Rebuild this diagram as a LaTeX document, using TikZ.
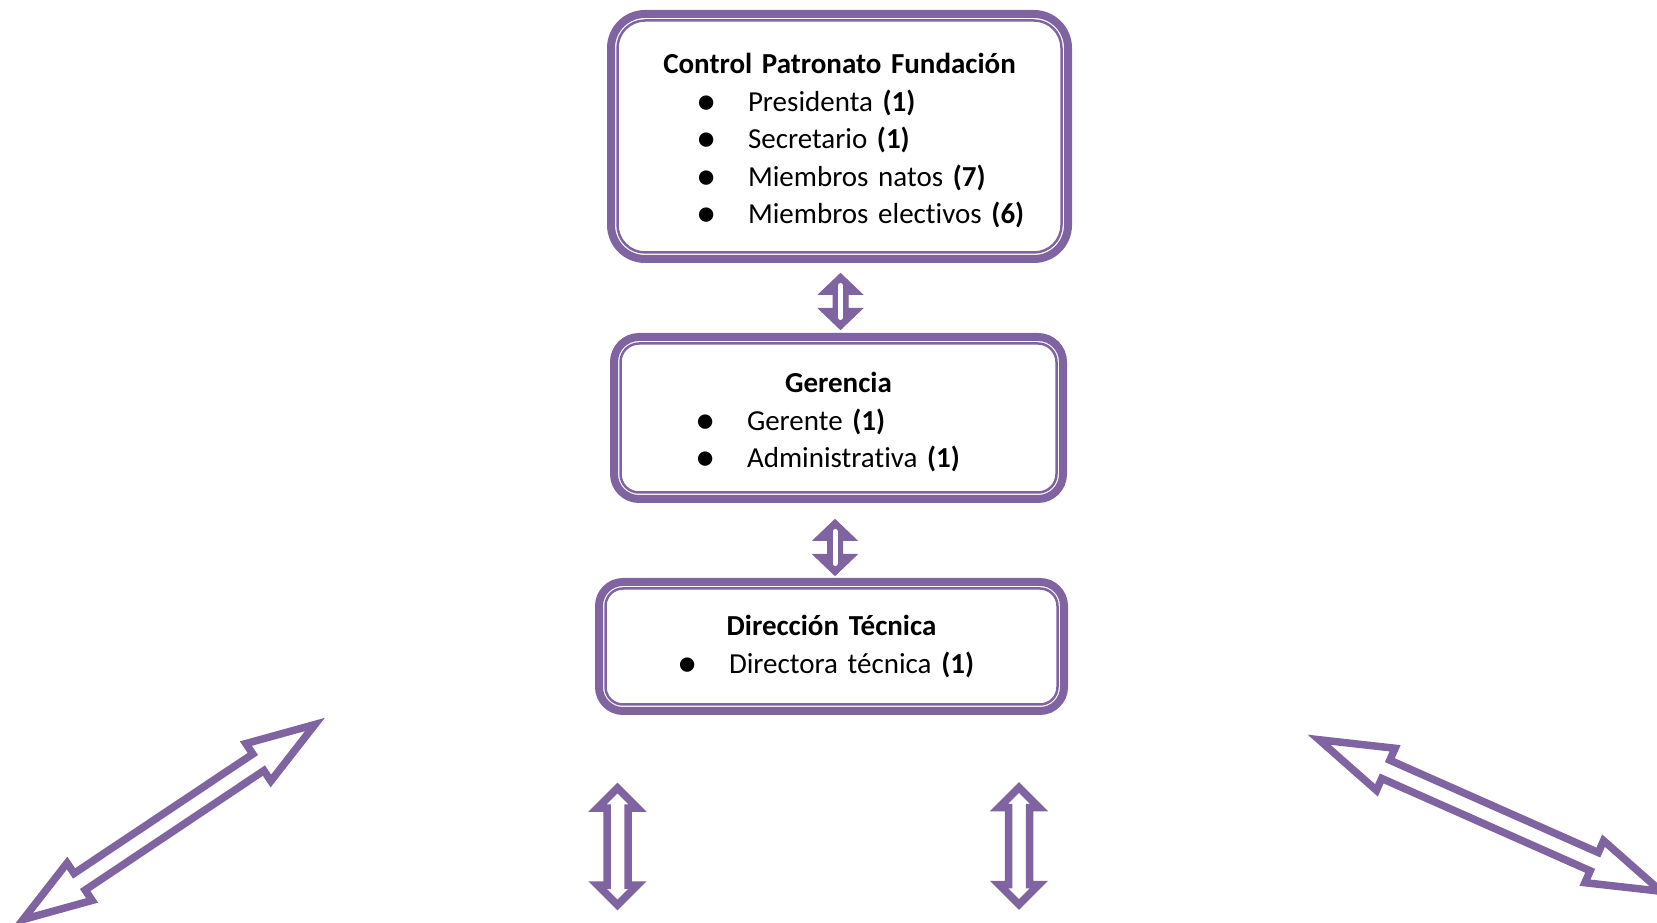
\documentclass[tikz,border=0pt]{standalone}
\usepackage{fontspec}
\setmainfont{Carlito}[Ligatures=NoCommon]
\usepackage{graphicx}
\usetikzlibrary{calc}
\definecolor{orgpurple}{RGB}{128,100,162}
\def\dblarrow[#1](#2)(#3:#4:#5:#6:#7){\draw[#1, shift={(#2)}, rotate=#3] (-#4,0) -- ({-#4+#5},#6) -- ({-#4+#5},#7) -- ({#4-#5},#7) -- ({#4-#5},#6) -- (#4,0) -- ({#4-#5},-#6) -- ({#4-#5},-#7) -- ({-#4+#5},-#7) -- ({-#4+#5},-#6) -- cycle;}
\newcommand\orgitem[2]{\hspace*{#1}\makebox[1.04cm][l]{\raisebox{-0.1em}{\scalebox{1.4}{\textbullet}}}#2}
\newcommand\orgtitle[1]{\makebox[\hsize]{\textbf{#1}}}

\begin{document}
\begin{tikzpicture}
				\tikzset{
					orgbox/.style={draw=orgpurple, line width=0.16cm, inner sep=0, outer sep=0, align=left, font={\fontsize{16.5}{21.3}\selectfont}},
					orgline/.style={draw=orgpurple, line width=0.05cm},
					bigarrow/.style={draw=orgpurple, line width=0.15cm, line join=miter},
					linkarrow/.style={draw=orgpurple, fill=orgpurple, line width=0.02cm, line join=miter},
					linkslot/.style={draw=white, line width=0.1cm, line cap=round}
				}
				\useasboundingbox (0,0) rectangle (33.14,18.44);
				\clip (0,0) rectangle (33.14,18.44);
				
				\node[orgbox, rounded corners=0.68cm, text width=9.14cm, minimum height=4.90cm] (patronato) at (16.79,15.71) {
					\vspace*{-0.17cm}
					\orgtitle{Control Patronato Fundación}\\
					\orgitem{1.7cm}{Presidenta \textbf{(1)}}\\
					\orgitem{1.7cm}{Secretario \textbf{(1)}}\\
					\orgitem{1.7cm}{Miembros natos \textbf{(7)}}\\
					\orgitem{1.7cm}{Miembros electivos \textbf{(6)}}};
				\draw[orgline, rounded corners=0.55cm] ([shift={(0.13,0.13)}]patronato.south west) rectangle ([shift={(-0.13,-0.13)}]patronato.north east);
				
				\node[orgbox, rounded corners=0.5cm, text width=8.98cm, minimum height=3.24cm] (gerencia) at (16.77,10.08) {
					\vspace*{-0.17cm}
					\orgtitle{Gerencia}\\
					\orgitem{1.62cm}{Gerente \textbf{(1)}}\\
					\orgitem{1.62cm}{Administrativa \textbf{(1)}}};
				\draw[orgline, rounded corners=0.37cm] ([shift={(0.13,0.13)}]gerencia.south west) rectangle ([shift={(-0.13,-0.13)}]gerencia.north east);
				
				\node[orgbox, rounded corners=0.48cm, text width=9.30cm, minimum height=2.58cm] (direccion) at (16.63,5.51) {
					\orgtitle{Dirección Técnica}\\
					\orgitem{1.56cm}{Directora técnica \textbf{(1)}}};
				\draw[orgline, rounded corners=0.35cm] ([shift={(0.13,0.13)}]direccion.south west) rectangle ([shift={(-0.13,-0.13)}]direccion.north east);
				
				\coordinate (arrA) at ($(patronato.south)!0.5!(gerencia.north)+(0.03,-0.07)$);
				\coordinate (arrB) at ($(gerencia.south)!0.5!(direccion.north)+(0,-0.14)$);
				\dblarrow[linkarrow](arrA)(90:0.56:0.42:0.44:0.15);
				\draw[linkslot] ([yshift=-0.32cm]arrA) -- ([yshift=0.32cm]arrA);
				\dblarrow[linkarrow](arrB)(90:0.56:0.42:0.44:0.15);
				\draw[linkslot] ([yshift=-0.32cm]arrB) -- ([yshift=0.32cm]arrB);
				
				\dblarrow[bigarrow](3.38,2.0)(33.75:3.51:1.36:0.45:0.2);
				\dblarrow[bigarrow](12.35,1.51)(90:1.17:0.4:0.40:0.21);
				\dblarrow[bigarrow](20.38,1.52)(90:1.17:0.4:0.40:0.21);
				\dblarrow[bigarrow](29.8,2.13)(-23.9:3.74:1.46:0.46:0.2);
\end{tikzpicture}
\end{document}
